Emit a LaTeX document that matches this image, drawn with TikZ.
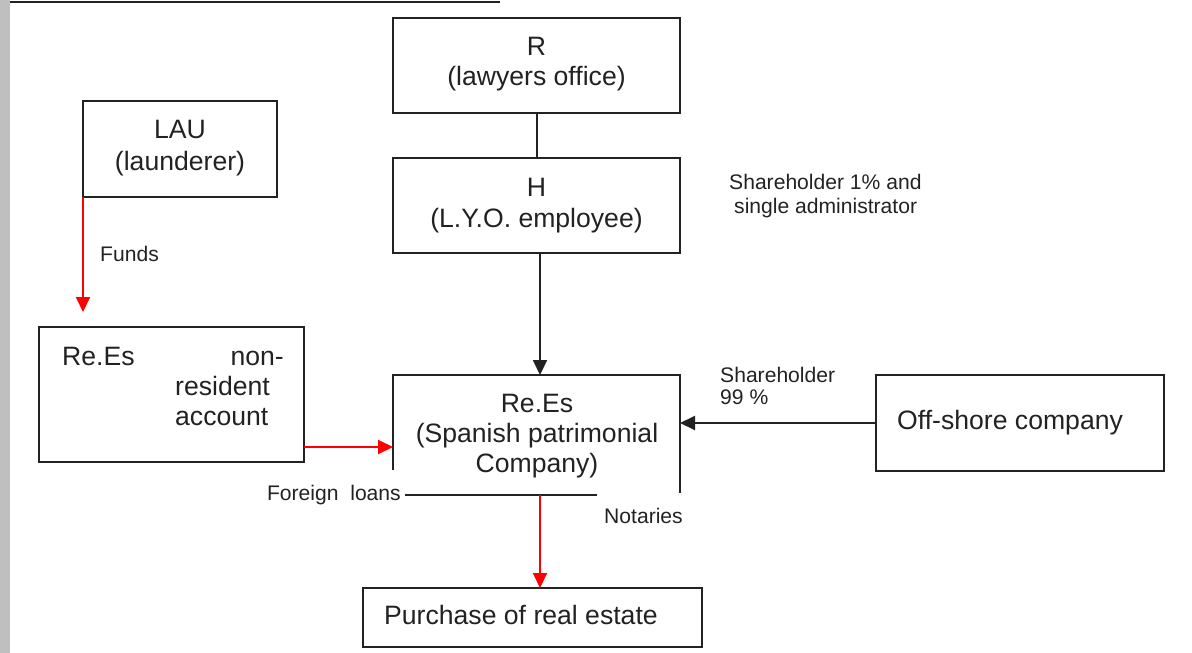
\documentclass[tikz,border=0pt]{standalone}
\usepackage{fontspec}
\setmainfont{Liberation Sans}
\usetikzlibrary{arrows.meta}
\definecolor{ink}{HTML}{222222}
\begin{document}
\begin{tikzpicture}[x=1pt,y=-1pt,
  box/.style={draw=ink,line width=2pt,inner sep=0pt,outer sep=0pt,anchor=north west},
  big/.style={font=\fontsize{26.6}{30}\selectfont,inner sep=0pt,text=ink},
  small/.style={font=\fontsize{21.1}{24}\selectfont,inner sep=0pt,text=ink},
  conn/.style={line width=2pt,draw=ink},
  blackarrow/.style={conn,-{Triangle[length=15pt,width=14pt]}},
  redarrow/.style={line width=2pt,draw=red,-{Triangle[length=15pt,width=14pt]},color=red}]
\useasboundingbox (0,0) rectangle (1192,653);
\fill[black!25] (0,0) rectangle (10,653);
\draw[line width=2pt,ink] (10,2) -- (500,2);

% boxes
\node[box,minimum width=287pt,minimum height=95pt] (R) at (393,18) {};
\node[box,minimum width=287pt,minimum height=95pt] (H) at (393,158) {};
\node[box,minimum width=194pt,minimum height=96pt] (LAU) at (83,101) {};
\node[box,minimum width=265pt,minimum height=135pt] (NR) at (39,327) {};
\node[box,draw=none,minimum width=287pt,minimum height=120pt] (RES) at (393,375) {};
\node[box,minimum width=339pt,minimum height=59pt] (PUR) at (363,588) {};
\node[box,minimum width=288pt,minimum height=96pt] (OFF) at (876,375) {};

% partial border of main company box
\draw[conn] ([yshift=-95pt]RES.north west) -- (RES.north west) -- (RES.north east) -- ([yshift=-118pt]RES.north east);

% texts
\node[big,anchor=base] (tR) at (536.5,55) {R};
\node[big,anchor=base] (tR2) at (536.5,85) {(lawyers office)};
\node[big,anchor=base] (tH) at (536.5,196) {H};
\node[big,anchor=base] (tH2) at (536.5,227) {(L.Y.O. employee)};
\node[big,anchor=base] (tL) at (180,138) {LAU};
\node[big,anchor=base] (tL2) at (180,170) {(launderer)};
\node[big,anchor=base west] (tN1) at (62,365) {Re.Es};
\node[big,anchor=base east] (tN2) at (284,365) {non-};
\node[big,anchor=base west] (tN3) at (175,395) {resident};
\node[big,anchor=base west] (tN4) at (175,425) {account};
\node[big,anchor=base] (tE1) at (537,412) {Re.Es};
\node[big,anchor=base] (tE2) at (537,442) {(Spanish patrimonial};
\node[big,anchor=base] (tE3) at (537,472) {Company)};
\node[big,anchor=base west] (tP) at (384,624) {Purchase of real estate};
\node[big,anchor=base west] (tO) at (897,429) {Off-shore company};
\node[small,anchor=base west] (tF) at (100,261) {Funds};
\node[small,anchor=base west] (tS1) at (729,189.5) {Shareholder 1\% and};
\node[small,anchor=base west] (tS2) at (734,213.5) {single administrator};
\node[small,anchor=base west] (tS3) at (720,382.5) {Shareholder};
\node[small,anchor=base west] (tS4) at (720,404.5) {99 \%};
\node[small,anchor=base east] (tFL) at (401,500) {Foreign\ \ loans};
\node[small,anchor=base west] (tNo) at (604,523) {Notaries};

% coordinates
\coordinate (hs) at (540,253);
\coordinate (rt) at (540,375);
\coordinate (fundsend) at (83,312);
\coordinate (nre) at (304,447);
\coordinate (rl) at (393,447);
\coordinate (fl1) at (405,495);
\coordinate (fl2) at (597,495);
\coordinate (rb) at (540,495);
\coordinate (pt) at (540,588);

% connectors
\draw[conn] (R.south) -- (H.north);
\draw[blackarrow] (hs) -- (rt);
\draw[redarrow] (LAU.south west) -- (fundsend);
\draw[redarrow] (nre) -- (rl);
\draw[blackarrow] (OFF.west) -- (OFF.west -| RES.east);
\draw[conn] (fl1) -- (fl2);
\draw[redarrow] (rb) -- (pt);
\end{tikzpicture}
\end{document}
